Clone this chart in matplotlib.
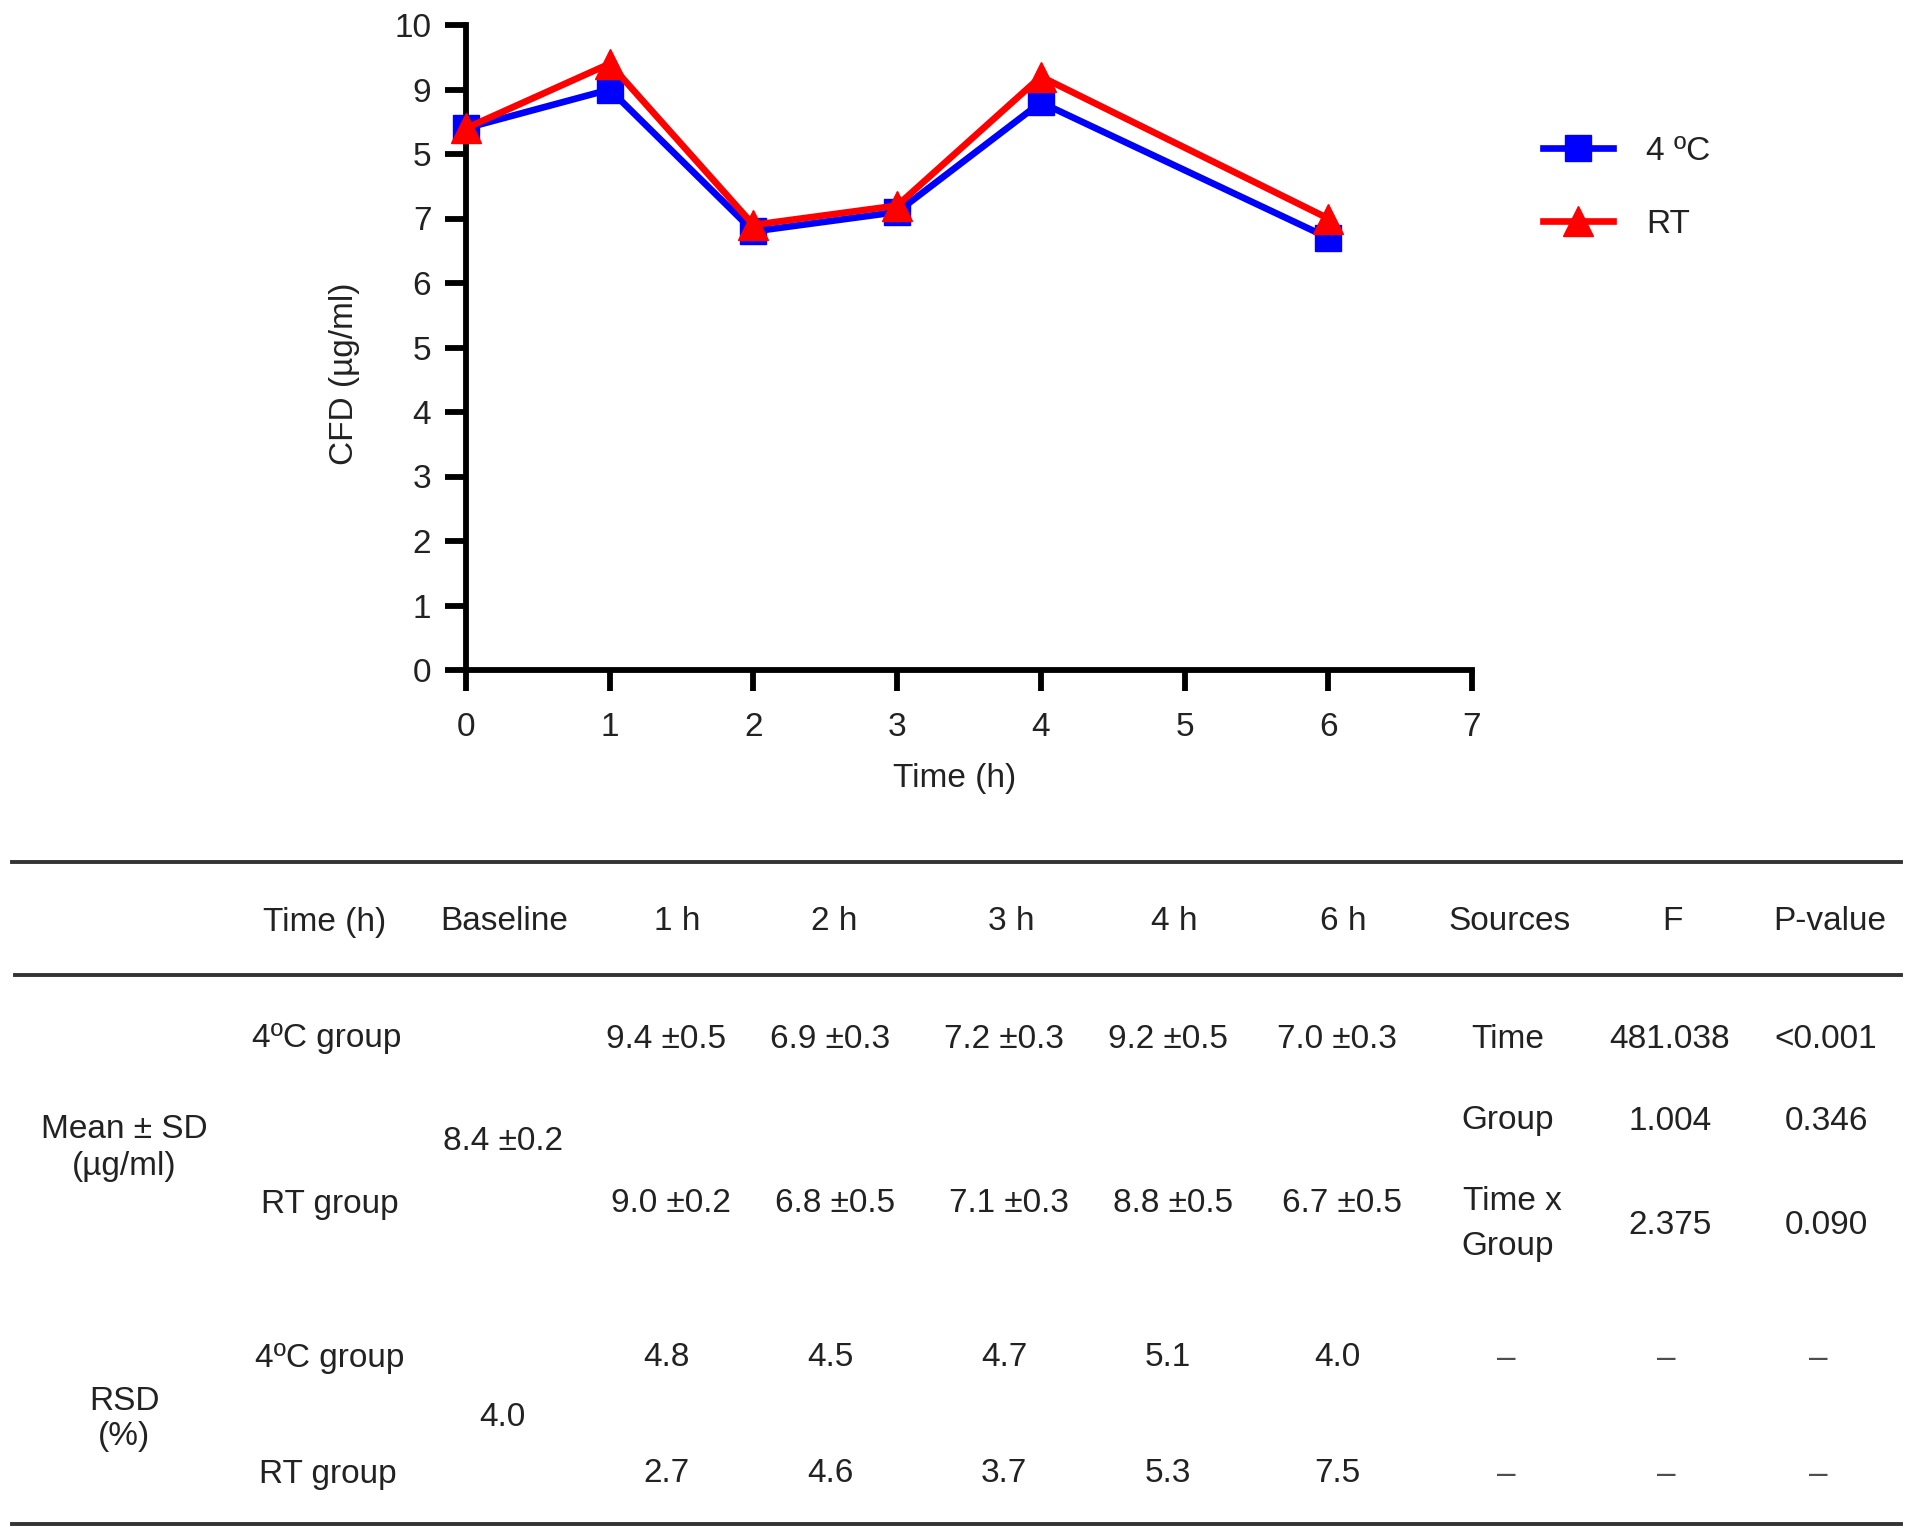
import numpy as np
import matplotlib.pyplot as plt
from matplotlib.lines import Line2D

# Plot setup
plt.rcParams['font.family'] = ['Liberation Sans', 'DejaVu Sans']
W, H = 1913, 1538
txt_col = '#222222'
fs = 24

# Curve data
time_h = [0, 1, 2, 3, 4, 6]
cfd_4c = [8.4, 9.0, 6.8, 7.1, 8.8, 6.7]
cfd_rt = [8.4, 9.4, 6.9, 7.2, 9.2, 7.0]
yticks = [0, 1, 2, 3, 4, 5, 6, 7, 8, 9, 10]
ytick_labels = ['0', '1', '2', '3', '4', '5', '6', '7', '5', '9', '10']
xticks = [0, 1, 2, 3, 4, 5, 6, 7]

# Table data
header = ['Time (h)', 'Baseline', '1 h', '2 h', '3 h', '4 h', '6 h', 'Sources', 'F', 'P-value']
mean_4c = ['9.4 \u00b10.5', '6.9 \u00b10.3', '7.2 \u00b10.3', '9.2 \u00b10.5', '7.0 \u00b10.3']
mean_rt = ['9.0 \u00b10.2', '6.8 \u00b10.5', '7.1 \u00b10.3', '8.8 \u00b10.5', '6.7 \u00b10.5']
mean_base = '8.4 \u00b10.2'
rsd_4c = ['4.8', '4.5', '4.7', '5.1', '4.0']
rsd_rt = ['2.7', '4.6', '3.7', '5.3', '7.5']
rsd_base = '4.0'
sources = ['Time', 'Group', 'Time x\nGroup']
f_vals = ['481.038', '1.004', '2.375']
p_vals = ['<0.001', '0.346', '0.090']


def fx(x):
    return x / W


def fy(y):
    return 1 - y / H


fig = plt.figure(figsize=(W / 100, H / 100), dpi=100)

# ---- line chart ----
x0, x1, y0, y1 = 466, 1472, 25, 670
ax = fig.add_axes([fx(x0), fy(y1), fx(x1 - x0), (y1 - y0) / H])
ax.plot(time_h, cfd_4c, color='#0000ff', lw=4.8, marker='s', ms=19, clip_on=False, zorder=3)
ax.plot(time_h, cfd_rt, color='#ff0000', lw=4.8, marker='^', ms=21, clip_on=False, zorder=4)
ax.set_xlim(0, 7)
ax.set_ylim(0, 10)
ax.set_xticks(xticks)
ax.set_yticks(yticks)
ax.set_yticklabels(ytick_labels)
for s in ['top', 'right']:
    ax.spines[s].set_visible(False)
for s in ['left', 'bottom']:
    ax.spines[s].set_linewidth(4.2)
ax.tick_params(axis='both', width=4.2, length=15, colors='black', labelcolor=txt_col, labelsize=fs)
ax.tick_params(axis='x', pad=15)
ax.tick_params(axis='y', pad=10)

fig.text(fx(955), fy(779), 'Time (h)', ha='center', va='center', fontsize=fs, color=txt_col)
fig.text(fx(344), fy(374), 'CFD (\u00b5g/ml)', ha='center', va='center', rotation=90,
         fontsize=fs, color=txt_col)

handles = [Line2D([], [], color='#0000ff', lw=4.8, marker='s', ms=19),
           Line2D([], [], color='#ff0000', lw=4.8, marker='^', ms=21)]
fig.legend(handles, ['4 \u00baC', 'RT'], loc='upper left', bbox_to_anchor=(fx(1543), fy(136)),
           frameon=False, fontsize=fs, handlelength=2.1, handletextpad=1.0, labelspacing=1.25,
           borderpad=0, borderaxespad=0, labelcolor=txt_col)

# ---- table ----
line_col = '#333333'
for y, xa, xb in [(862, 12, 1901), (975, 15, 1901), (1524, 12, 1901)]:
    fig.add_artist(Line2D([fx(xa), fx(xb)], [fy(y), fy(y)], color=line_col, lw=2.8))

hdr_x = [325, 504, 677, 834, 1011, 1174, 1343, 1510, 1672, 1830]
val_x = [666, 830, 1004, 1168, 1337]
src_x, f_x, p_x = 1508, 1670, 1826
dy = 4


def t(x, y, s, **kw):
    fig.text(fx(x), fy(y + dy), s, ha='center', va='center', fontsize=fs, color=txt_col, **kw)


for x, s in zip(hdr_x, header):
    t(x, 918, s)

t(327, 1035, '4\u00baC group')
t(330, 1200, 'RT group')
t(124, 1125, 'Mean \u00b1 SD')
t(124, 1162, '(\u00b5g/ml)')
t(503, 1138, mean_base)
for x, a, b in zip(val_x, mean_4c, mean_rt):
    t(x, 1035, a)
    t(x + 5, 1200, b)

t(src_x, 1035, sources[0])
t(src_x, 1117, sources[1])
t(src_x + 4, 1198, sources[2].split('\n')[0])
t(src_x, 1242, sources[2].split('\n')[1])
for y, f, p in zip([1035, 1117, 1222], f_vals, p_vals):
    t(f_x, y, f)
    t(p_x, y, p)

t(330, 1354, '4\u00baC group')
t(328, 1470, 'RT group')
t(124, 1397, 'RSD')
t(124, 1432, '(%)')
t(502, 1413, rsd_base)
for x, a, b in zip(val_x, rsd_4c, rsd_rt):
    t(x, 1354, a)
    t(x, 1470, b)
for x in [1506, 1666, 1818]:
    t(x, 1354, '\u2013', alpha=0.8)
    t(x, 1470, '\u2013', alpha=0.8)

fig.savefig('out.png', dpi=100)
